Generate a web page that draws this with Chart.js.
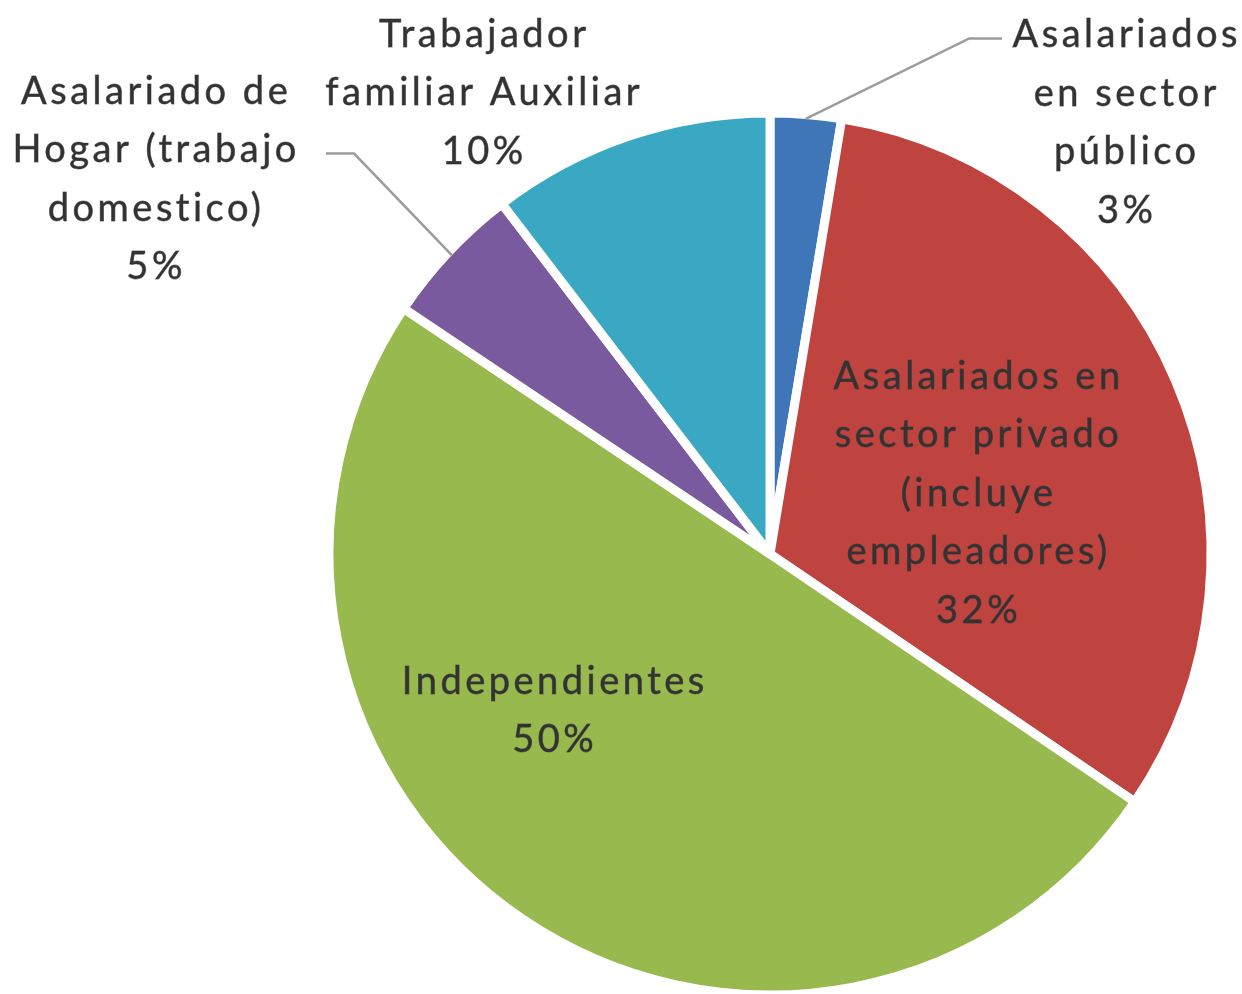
<!DOCTYPE html>
<html>
<head>
<meta charset="utf-8">
<script src="https://cdn.jsdelivr.net/npm/chart.js@4.4.0/dist/chart.umd.min.js"></script>
<style>
  html, body { margin: 0; padding: 0; background: #fff; }
</style>
</head>
<body>
<canvas id="myChart" width="1242" height="994"></canvas>
<script>
const categorias = [
  "Asalariados en sector público",
  "Asalariados en sector privado (incluye empleadores)",
  "Independientes",
  "Asalariado de Hogar (trabajo domestico)",
  "Trabajador familiar Auxiliar"
];
const valores = [2.6, 31.9, 49.9, 5.2, 10.4];
const lineasEtiqueta = [
  ["Asalariados", "en sector", "público"],
  ["Asalariados en", "sector privado", "(incluye", "empleadores)"],
  ["Independientes"],
  ["Asalariado de", "Hogar (trabajo", "domestico)"],
  ["Trabajador", "familiar Auxiliar"]
];
const colores = ["#3e76b7", "#bf4440", "#98b94e", "#7a5a9e", "#3aa8c3"];

// label block centre, in units of the pie radius, relative to the pie centre
const posEtiqueta = [[0.805, -0.978], [0.469, -0.137], [-0.492, 0.355], [-1.396, -0.850], [-0.652, -1.045]];
// leader lines: [elbow x, elbow y, end x, end y] in radius units (null = none)
const guias = [[0.452, -1.169, 0.526, -1.169], null, null, [-0.943, -0.908, -1.007, -0.908], null];

const etiquetasPlugin = {
  id: "etiquetas",
  afterDatasetsDraw(chart) {
    const ctx = chart.ctx;
    const meta = chart.getDatasetMeta(0);
    ctx.save();
    meta.data.forEach((arc, i) => {
      const R = arc.outerRadius;
      const cx = arc.x, cy = arc.y;
      const guia = guias[i];
      if (guia) {
        const mid = (arc.startAngle + arc.endAngle) / 2;
        ctx.beginPath();
        ctx.strokeStyle = "#9c9c9c";
        ctx.lineWidth = 2.5;
        ctx.moveTo(cx + Math.cos(mid) * R * 0.99, cy + Math.sin(mid) * R * 0.99);
        ctx.lineTo(cx + guia[0] * R, cy + guia[1] * R);
        ctx.lineTo(cx + guia[2] * R, cy + guia[3] * R);
        ctx.stroke();
      }
      const lineas = lineasEtiqueta[i].concat([Math.round(valores[i]) + "%"]);
      const alto = 58.5;
      const x = cx + posEtiqueta[i][0] * R;
      const y0 = cy + posEtiqueta[i][1] * R - (lineas.length - 1) * alto / 2;
      ctx.fillStyle = "#333333";
      ctx.strokeStyle = "rgba(51,51,51,0.6)";
      ctx.lineWidth = 0.8;
      ctx.font = "38px Lato";
      ctx.letterSpacing = "3.5px";
      ctx.textAlign = "center";
      ctx.textBaseline = "middle";
      lineas.forEach((t, k) => {
        ctx.fillText(t, x + 1.75, y0 + k * alto);
        ctx.strokeText(t, x + 1.75, y0 + k * alto);
      });
    });
    ctx.restore();
  }
};

new Chart("myChart", {
  type: "pie",
  data: {
    labels: categorias,
    datasets: [{
      data: valores,
      backgroundColor: colores,
      borderColor: "#ffffff",
      borderWidth: 9,
      radius: 441
    }]
  },
  options: {
    responsive: false,
    animation: false,
    layout: { padding: { left: 329, right: 31, top: 114, bottom: -2 } },
    plugins: {
      legend: { display: false },
      tooltip: { enabled: false }
    }
  },
  plugins: [etiquetasPlugin]
});
</script>
</body>
</html>
